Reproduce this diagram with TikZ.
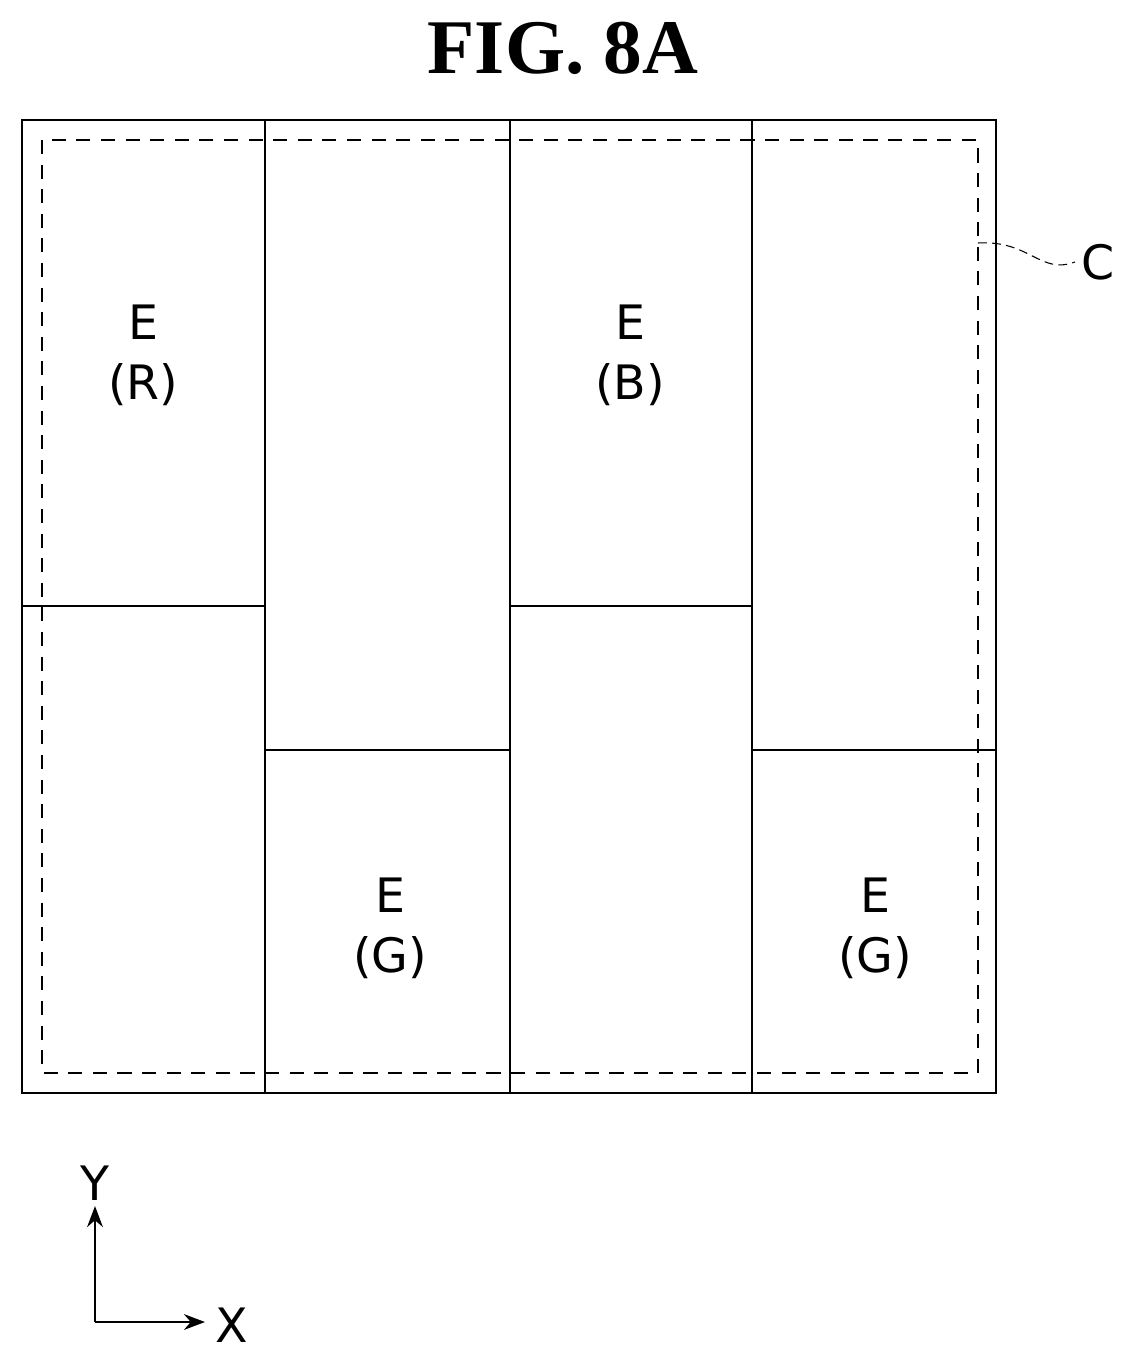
\documentclass[tikz,border=0pt]{standalone}
\usepackage{fontspec}
\setmainfont{DejaVu Sans}
\newfontfamily\titlefont{Liberation Serif}
\usetikzlibrary{arrows.meta}
\tikzset{
cellline/.style={line width=1.3pt},
cutline/.style={line width=0.6pt, dash pattern=on 8pt off 6pt},
lbl/.style={font=\fontsize{27}{34}\selectfont, align=center},
arr/.style={-{Stealth[length=12pt,width=9pt]}, line width=0.8pt},
}
\begin{document}
\begin{tikzpicture}[x=0.02cm,y=-0.02cm]
    \useasboundingbox (0,0) rectangle (1132,1361);
    \node[font=\titlefont\bfseries\fontsize{44}{48}\selectfont] (title) at (563,48) {FIG. 8A};

    % panel and cells
    \draw[cellline] (22,120) rectangle (996,1093);
    \foreach \x in {265,510,752}
        \draw[cellline] (\x,120) -- (\x,1093);
    \draw[cellline] (22,606) -- (265,606);
    \draw[cellline] (265,750) -- (510,750);
    \draw[cellline] (510,606) -- (752,606);
    \draw[cellline] (752,750) -- (996,750);
    \draw[cutline] (42,140) rectangle (978,1073);

    \node[lbl] (eR) at (143,355) {E\\(R)};
    \node[lbl] (eB) at (630,355) {E\\(B)};
    \node[lbl] (eG1) at (390,928) {E\\(G)};
    \node[lbl] (eG2) at (875,928) {E\\(G)};

    % leader for C
    \node[lbl, anchor=west] (c) at (1075,262) {C};
    \coordinate (cfoot) at (978,243);
    \draw[line width=0.6pt, dash pattern=on 5pt off 3pt] (cfoot) .. controls (1030,240) and (1040,275) .. (c.west);

    % axes
    \coordinate (o) at (95,1322);
    \node[lbl] (ylab) at (95,1183) {Y};
    \node[lbl] (xlab) at (232,1325) {X};
    \coordinate (ytip) at (95,1206);
    \coordinate (xtip) at (205,1322);
    \draw[arr] (o) -- (ytip);
    \draw[arr] (o) -- (xtip);
\end{tikzpicture}
\end{document}
